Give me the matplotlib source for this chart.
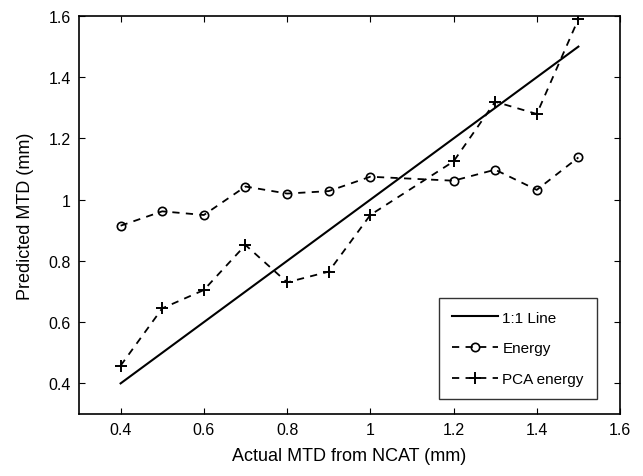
import numpy as np
import matplotlib
matplotlib.use("Agg")
import matplotlib.pyplot as plt

plt.rcParams['font.family'] = ['Liberation Sans', 'DejaVu Sans']

# datos
x_actual = [0.4, 0.5, 0.6, 0.7, 0.8, 0.9, 1.0, 1.2, 1.3, 1.4, 1.5]
energia = [0.915, 0.962, 0.950, 1.043, 1.020, 1.028, 1.075, 1.062, 1.098, 1.032, 1.138]
pca_energia = [0.458, 0.645, 0.705, 0.852, 0.730, 0.765, 0.950, 1.125, 1.320, 1.280, 1.590]
linea_11 = [0.4, 1.5]

x_ticks = [0.4, 0.6, 0.8, 1.0, 1.2, 1.4, 1.6]
x_ticklabels = ['0.4', '0.6', '0.8', '1', '1.2', '1.4', '1.6']
y_ticks = [0.4, 0.6, 0.8, 1.0, 1.2, 1.4, 1.6]
y_ticklabels = ['0.4', '0.6', '0.8', '1', '1.2', '1.4', '1.6']

fig = plt.figure(figsize=(6.43, 4.77), dpi=100)
ax = fig.add_axes([79/643, 62/477, 541/643, 398/477])

ax.plot(linea_11, linea_11, color='black', lw=1.5, label='1:1 Line')
ax.plot(x_actual, energia, color='black', lw=1.3, ls=(0, (4, 3.5)),
        marker='o', ms=6, mfc='none', mew=1.2, label='Energy')
ax.plot(x_actual, pca_energia, color='black', lw=1.3, ls=(0, (4, 3.5)),
        marker='+', ms=9, mew=1.4, label='PCA energy')

ax.set_xlim(0.3, 1.6)
ax.set_ylim(0.3, 1.6)
ax.set_xticks(x_ticks)
ax.set_xticklabels(x_ticklabels)
ax.set_yticks(y_ticks)
ax.set_yticklabels(y_ticklabels)
ax.tick_params(direction='in', top=True, right=True, length=4, width=0.8,
               labelsize=11.5, colors='black', pad=6)
for s in ax.spines.values():
    s.set_linewidth(1.2)

ax.set_xlabel('Actual MTD from NCAT (mm)', fontsize=13, labelpad=7)
ax.set_ylabel('Predicted MTD (mm)', fontsize=13, labelpad=10)

leg = ax.legend(loc='lower right', bbox_to_anchor=(0.957, 0.037), fontsize=11,
                frameon=True, fancybox=False, edgecolor='black',
                handlelength=3.0, labelspacing=1.1, borderpad=0.85,
                handletextpad=0.3, borderaxespad=0)
leg.get_frame().set_linewidth(1.0)

fig.savefig('out.png', dpi=100)
